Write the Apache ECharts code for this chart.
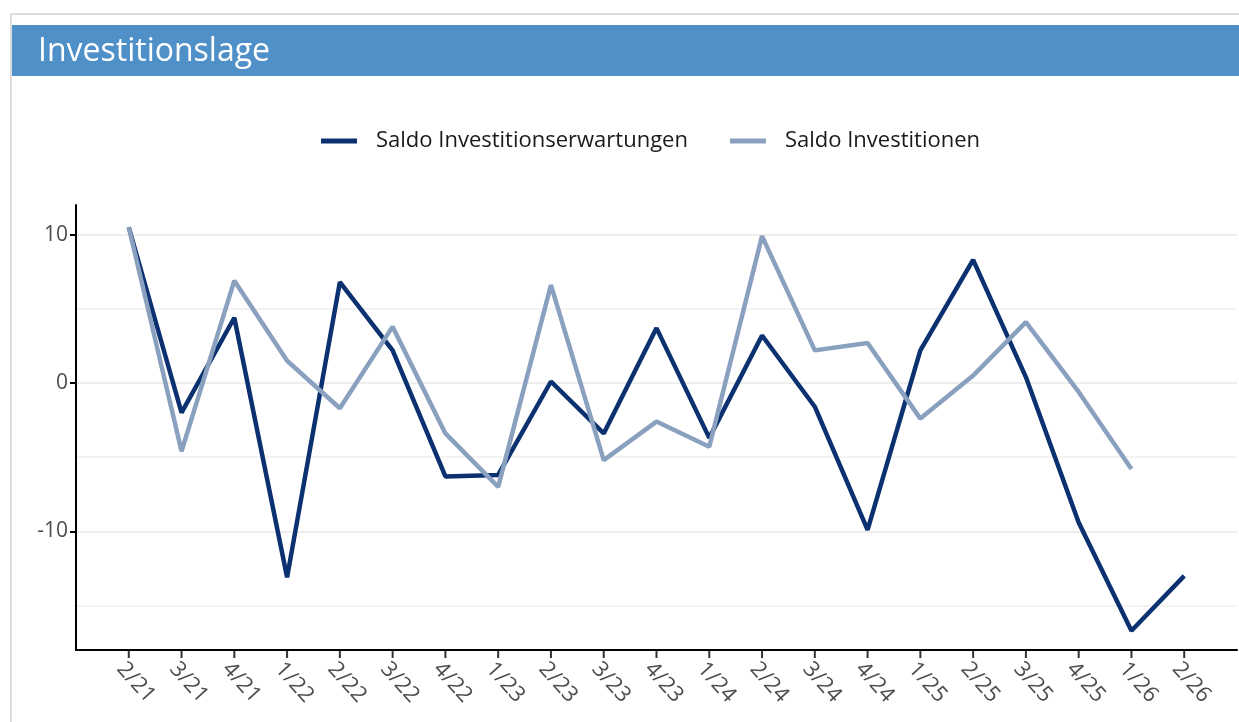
<!DOCTYPE html>
<html>
<head>
<meta charset="utf-8">
<script src="https://cdn.jsdelivr.net/npm/echarts@6/dist/echarts.min.js"></script>
<style>
  html, body { margin: 0; padding: 0; background: #fff; }
  #main { width: 1239px; height: 722px; }
</style>
</head>
<body>
<div id="main"></div>
<script>
// Quartale
var quarters = ['2/21', '3/21', '4/21', '1/22', '2/22', '3/22', '4/22', '1/23', '2/23', '3/23', '4/23',
                '1/24', '2/24', '3/24', '4/24', '1/25', '2/25', '3/25', '4/25', '1/26', '2/26'];
var erwartungen = [10.5, -2.0, 4.4, -13.1, 6.8, 2.2, -6.3, -6.2, 0.1, -3.4, 3.7,
                   -3.7, 3.2, -1.6, -9.9, 2.2, 8.3, 0.4, -9.4, -16.7, -13.0];
var investitionen = [10.5, -4.6, 6.9, 1.5, -1.7, 3.8, -3.4, -7.0, 6.6, -5.2, -2.6,
                     -4.3, 9.9, 2.2, 2.7, -2.4, 0.5, 4.1, -0.6, -5.8, null];
var yLabelTicks = [-10, 0, 10];
var yMinorLines = [-15, -5, 5];
var yMin = -18, yMax = 12;

// leere Kategorie links und rechts als Rand
function pad(arr) { return [null].concat(arr, [null]); }
var xCats = [''].concat(quarters, ['']);

// Striche unter der x-Achse nur an den echten Quartalen
var tickMarks = quarters.map(function (q) { return [q, yMin]; });

var FONT = 'Open Sans';
var myChart = echarts.init(document.getElementById('main'));

var option = {
  backgroundColor: '#fff',
  animation: false,
  graphic: [
    { type: 'rect', z: -10, shape: { x: 11, y: 14, width: 1260, height: 740 },
      style: { fill: 'none', stroke: '#dcdcdc', lineWidth: 2 } },
    { type: 'rect', z: -5, shape: { x: 12, y: 25, width: 1227, height: 51 },
      style: { fill: '#5090c9' } }
  ],
  title: {
    text: 'Investitionslage',
    left: 33,
    top: 31,
    textStyle: { color: '#fff', fontSize: 32, fontWeight: 'normal', fontFamily: FONT }
  },
  legend: {
    data: ['Saldo Investitionserwartungen', 'Saldo Investitionen'],
    top: 125,
    left: 316,
    icon: 'rect',
    itemWidth: 36,
    itemHeight: 5,
    itemGap: 42,
    textStyle: { fontSize: 22, color: '#1a1a1a', fontFamily: FONT, padding: [0, 0, 0, 14] }
  },
  grid: { left: 76, right: 2, top: 205, bottom: 72 },
  xAxis: {
    type: 'category',
    boundaryGap: false,
    data: xCats,
    axisLine: { onZero: false, lineStyle: { color: '#000', width: 2 } },
    axisTick: { show: false },
    axisLabel: {
      interval: 0,
      rotate: -48, align: 'left', verticalAlign: 'top',
      color: '#4d4d4d', fontSize: 22, fontFamily: FONT, margin: 8
    },
    splitLine: { show: false }
  },
  yAxis: [
    {
      type: 'value', min: yMin, max: yMax, position: 'left',
      axisLine: { show: false },
      axisTick: { show: false, customValues: yMinorLines },
      axisLabel: { show: false, customValues: yMinorLines },
      splitLine: { show: true, lineStyle: { color: '#efefef', width: 1.5 } }
    },
    {
      type: 'value', min: yMin, max: yMax, position: 'left',
      axisLine: { show: true, lineStyle: { color: '#000', width: 2 } },
      axisTick: { show: true, customValues: yLabelTicks, length: 6, lineStyle: { color: '#000', width: 2 } },
      axisLabel: { customValues: yLabelTicks, color: '#4d4d4d', fontSize: 21, fontFamily: FONT, margin: 8 },
      splitLine: { show: true, lineStyle: { color: '#e8e8e8', width: 1.5 } }
    }
  ],
  series: [
    {
      name: 'Saldo Investitionserwartungen',
      type: 'line',
      yAxisIndex: 0,
      data: pad(erwartungen),
      symbol: 'none',
      color: '#0b3170',
      lineStyle: { width: 4.5, color: '#0b3170' }
    },
    {
      name: 'Saldo Investitionen',
      type: 'line',
      yAxisIndex: 0,
      data: pad(investitionen),
      symbol: 'none',
      color: '#8aa0bf',
      lineStyle: { width: 4.5, color: '#8aa0bf' }
    },
    {
      name: 'ticks',
      type: 'scatter',
      yAxisIndex: 0,
      data: tickMarks,
      symbol: 'rect',
      symbolSize: [2, 7],
      symbolOffset: [0, 4.5],
      itemStyle: { color: '#000' },
      clip: false,
      silent: true,
      z: 5
    }
  ]
};

myChart.setOption(option);
</script>
</body>
</html>
